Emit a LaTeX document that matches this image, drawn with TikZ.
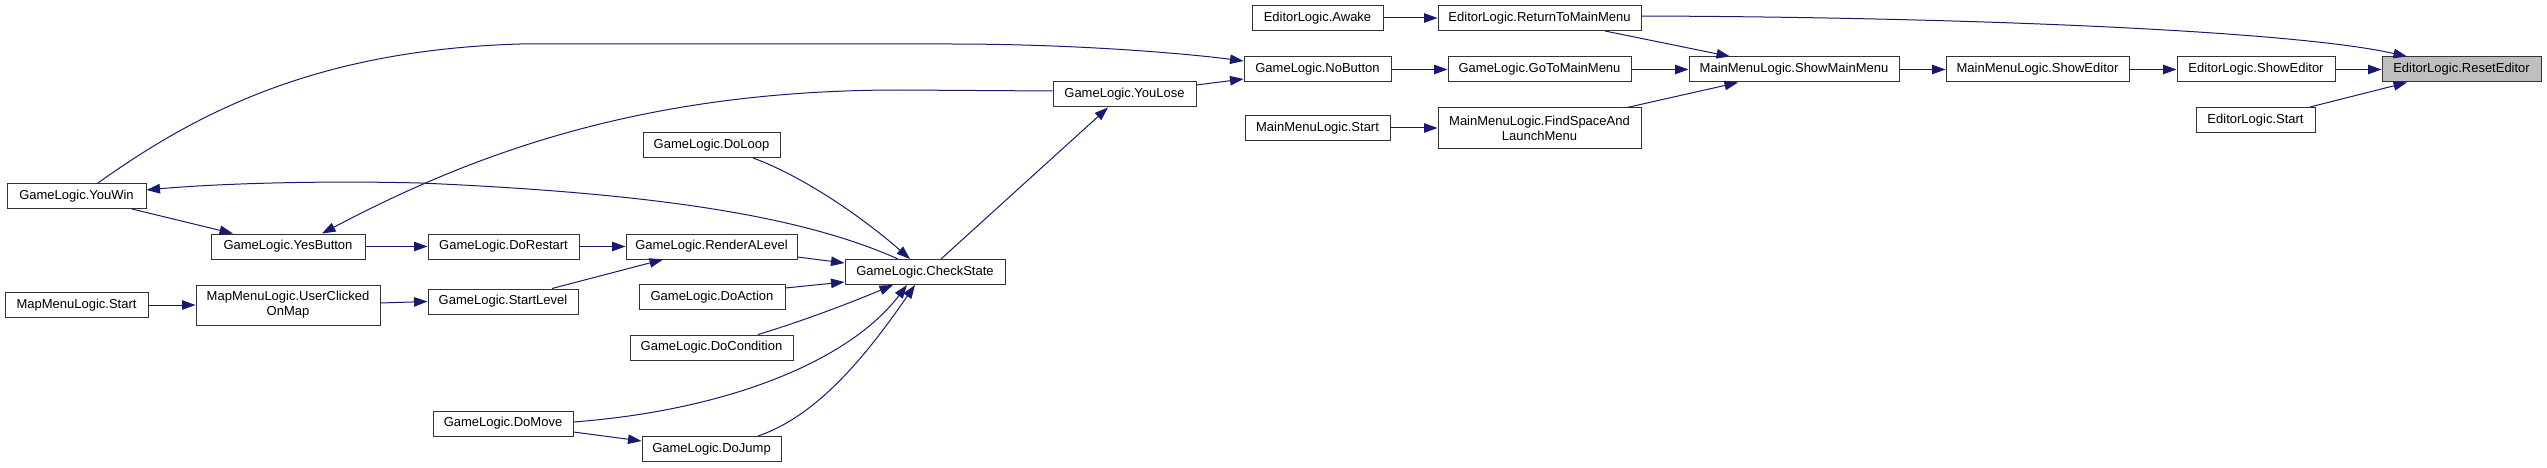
\documentclass[tikz,border=0pt]{standalone}
\usepackage{fontspec}
\setmainfont{Liberation Sans}
\usetikzlibrary{arrows.meta}
\definecolor{edgeblue}{HTML}{191970}
\definecolor{bordergray}{HTML}{333333}
\definecolor{focusgray}{HTML}{BFBFBF}
\tikzset{
  fn/.style={draw=bordergray, line width=1pt, fill=white, inner sep=0pt,
    font=\fontsize{13}{15}\selectfont, align=center, minimum height=25pt},
  call/.style={draw=edgeblue, line width=1pt,
    -{Triangle[length=13.5pt,width=9.5pt]}}
}
\begin{document}
\begin{tikzpicture}[x=1pt,y=-1pt]
\useasboundingbox (0,0) rectangle (2547,468);
% nodes
\node[fn, minimum width=159pt, fill=focusgray] (reset) at (2461.5,69.5) {EditorLogic.ResetEditor};
\node[fn, minimum width=158pt] (edshow) at (2256,69.5) {EditorLogic.ShowEditor};
\node[fn, minimum width=119pt] (edstart) at (2255.5,120) {EditorLogic.Start};
\node[fn, minimum width=183pt] (mmshow) at (2037.5,69.5) {MainMenuLogic.ShowEditor};
\node[fn, minimum width=210pt] (showmain) at (1794,69.5) {MainMenuLogic.ShowMainMenu};
\node[fn, minimum width=203pt] (ret) at (1539.5,18) {EditorLogic.ReturnToMainMenu};
\node[fn, minimum width=183pt] (goto) at (1539.5,69.5) {GameLogic.GoToMainMenu};
\node[fn, minimum width=203pt, minimum height=40pt] (find) at (1539.5,128) {MainMenuLogic.FindSpaceAnd\\LaunchMenu};
\node[fn, minimum width=131pt] (awake) at (1317.5,18) {EditorLogic.Awake};
\node[fn, minimum width=147pt] (no) at (1317.5,69.5) {GameLogic.NoButton};
\node[fn, minimum width=145pt] (mmstart) at (1317.5,128) {MainMenuLogic.Start};
\node[fn, minimum width=143pt] (youlose) at (1124.5,94.5) {GameLogic.YouLose};
\node[fn, minimum width=160pt] (check) at (925,272) {GameLogic.CheckState};
\node[fn, minimum width=137pt] (loop) at (711.5,145) {GameLogic.DoLoop};
\node[fn, minimum width=171pt] (render) at (711.5,246.5) {GameLogic.RenderALevel};
\node[fn, minimum width=146pt] (action) at (712,297) {GameLogic.DoAction};
\node[fn, minimum width=163pt] (cond) at (711.5,347.5) {GameLogic.DoCondition};
\node[fn, minimum width=139pt] (jump) at (711.5,449) {GameLogic.DoJump};
\node[fn, minimum width=151pt] (restart) at (503.5,246.5) {GameLogic.DoRestart};
\node[fn, minimum width=150pt] (startlevel) at (503,301.5) {GameLogic.StartLevel};
\node[fn, minimum width=140pt] (move) at (503,423.5) {GameLogic.DoMove};
\node[fn, minimum width=154pt] (yes) at (288,246.5) {GameLogic.YesButton};
\node[fn, minimum width=184pt, minimum height=40pt] (clicked) at (288,305) {MapMenuLogic.UserClicked\\OnMap};
\node[fn, minimum width=139pt] (youwin) at (76.5,196) {GameLogic.YouWin};
\node[fn, minimum width=143pt] (mapstart) at (76.5,305) {MapMenuLogic.Start};
% edges
\draw[call] ([yshift=2pt]ret.east) .. controls (1950,17) and (2290,30) .. ([xshift=-54.5pt]reset.north);
\draw[call] (edshow.east) -- (reset.west);
\draw[call] ([xshift=54.5pt]edstart.north) -- ([xshift=-54.5pt]reset.south);
\draw[call] (mmshow.east) -- (edshow.west);
\draw[call] (showmain.east) -- (mmshow.west);
\draw[call] ([xshift=65.5pt]ret.south) -- ([xshift=-64pt]showmain.north);
\draw[call] (goto.east) -- (showmain.west);
\draw[call] ([xshift=87.5pt]find.north) -- ([xshift=-56pt]showmain.south);
\draw[call] (awake.east) -- (ret.west);
\draw[call] (no.east) -- (goto.west);
\draw[call] (mmstart.east) -- (find.west);
\draw[call] ([xshift=21.5pt]youwin.north) .. controls (200,110) and (320,50) .. (520,44) -- (950,44) .. controls (1080,44) and (1190,54) .. ([yshift=8.5pt]no.west);
\draw[call] ([yshift=9.5pt]youlose.east) -- ([yshift=-9.5pt]no.west);
\draw[call] ([xshift=16pt]check.north) -- ([xshift=-16.5pt]youlose.south);
\draw[call] ([yshift=3.5pt]youlose.west) -- (900,90) .. controls (650,90) and (480,150) .. ([xshift=34pt]yes.north);
\draw[call] ([xshift=-27pt]check.north) .. controls (800,215) and (650,193) .. (420,183) .. controls (300,180) and (200,185) .. ([yshift=6pt]youwin.east);
\draw[call] ([xshift=55.5pt]youwin.south) -- ([xshift=-55pt]yes.north);
\draw[call] (yes.east) -- (restart.west);
\draw[call] (restart.east) -- (render.west);
\draw[call] ([xshift=49pt]startlevel.north) -- ([xshift=-48.5pt]render.south);
\draw[call] ([yshift=-10.5pt]render.east) -- ([yshift=9pt]check.west);
\draw[call] ([xshift=41.5pt]loop.south) .. controls (800,175) and (860,215) .. ([xshift=-15pt]check.north);
\draw[call] ([yshift=9pt]action.east) -- ([yshift=-10pt]check.west);
\draw[call] ([xshift=46.5pt]cond.north) .. controls (800,322) and (850,303) .. ([xshift=-32pt]check.south);
\draw[call] ([yshift=1.5pt]move.east) .. controls (730,410) and (850,360) .. ([xshift=-18pt]check.south);
\draw[call] ([xshift=46.5pt]jump.north) .. controls (820,415) and (870,350) .. ([xshift=-10pt]check.south);
\draw[call] ([yshift=-8.5pt]move.east) -- ([yshift=8pt]jump.west);
\draw[call] (mapstart.east) -- (clicked.west);
\draw[call] ([yshift=2pt]clicked.east) -- (startlevel.west);
\end{tikzpicture}
\end{document}
